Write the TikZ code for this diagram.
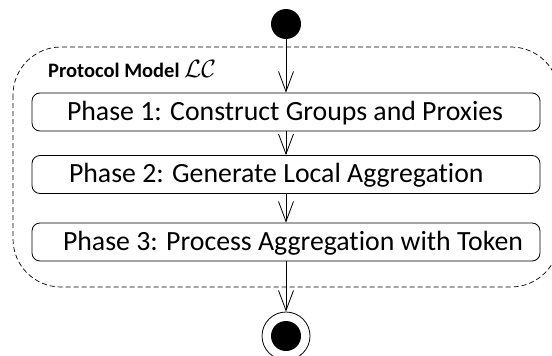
\RequirePackage{fix-cm}
\documentclass[tikz,border=0pt]{standalone}
\usepackage{fontspec}
\setmainfont{Carlito}[Ligatures=NoCommon]
\usetikzlibrary{arrows.meta}
\begin{document}
\begin{tikzpicture}[x=1pt,y=-1pt,
  phasebox/.style={draw, rounded corners=8pt, line width=0.8pt, inner sep=0pt,
    text height=27pt, text depth=11pt, font=\fontsize{27.8}{30}\selectfont},
  flow/.style={line width=0.8pt, -{Straight Barb[length=20pt,width=15pt,line width=0.8pt]}},
  startdot/.style={circle, fill, inner sep=0pt, minimum size=30pt},
  endring/.style={circle, draw, line width=0.8pt, inner sep=0pt, minimum size=48pt},
  container/.style={dash pattern=on 5pt off 3pt, line width=0.7pt, rounded corners=48pt},
  titletext/.style={anchor=base west, inner sep=0pt, font=\bfseries\fontsize{20.5}{24}\selectfont}
]
\useasboundingbox (0,0) rectangle (552,356);
\clip (0,0) rectangle (552,356);

\draw[container] (13,47) rectangle (559,287);
\node[titletext] (title) at (48,77) {Protocol Model {\fontsize{25}{28}\selectfont$\mathcal{LC}$}};

\node[startdot] (start) at (286,24) {};
\node[phasebox] (p1) at (286,112) {\makebox[508pt][l]{\hspace{35pt}Phase 1: Construct Groups and Proxies}};
\node[phasebox] (p2) at (286,174.5) {\makebox[508pt][l]{\hspace{37pt}Phase 2: Generate Local Aggregation}};
\node[phasebox] (p3) at (286,242) {\makebox[508pt][l]{\hspace{31pt}Phase 3: Process Aggregation with Token}};
\node[endring] (stop) at (286,336) {};
\node[startdot] (stopdot) at (stop.center) {};

\draw[flow] (start) -- (p1);
\draw[flow] (p1) -- (p2);
\draw[flow] (p2) -- (p3);
\draw[flow] (p3) -- (stop);
\end{tikzpicture}
\end{document}
